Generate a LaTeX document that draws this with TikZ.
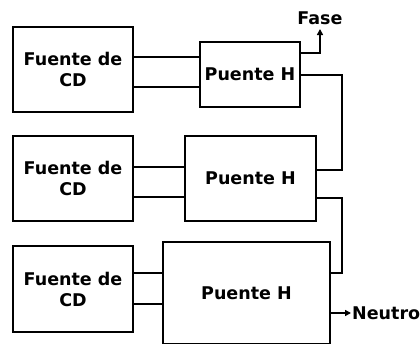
\documentclass[tikz,border=0pt]{standalone}
\usepackage{fontspec}
\setmainfont{DejaVu Sans}
\usetikzlibrary{arrows.meta}
\begin{document}
\begin{tikzpicture}[x=1pt,y=-1pt,
  blk/.style={draw,line width=1.8pt,inner sep=0pt,align=center,font=\fontsize{17.5}{21}\selectfont\bfseries},
  wire/.style={line width=1.8pt},
  lbl/.style={inner sep=0pt,font=\fontsize{17.5}{21}\selectfont\bfseries}]
\useasboundingbox (0,0) rectangle (420,343);
\clip (0,0) rectangle (420,343);
% sources
\node[blk,minimum width=120pt,minimum height=85pt] (s1) at (73,69.5) {Fuente de\\CD};
\node[blk,minimum width=120pt,minimum height=85pt] (s2) at (73,178.5) {Fuente de\\CD};
\node[blk,minimum width=120pt,minimum height=86pt] (s3) at (73,289) {Fuente de\\CD};
% bridges
\node[blk,minimum width=100pt,minimum height=65pt] (h1) at (250,74.5) {Puente H};
\node[blk,minimum width=131pt,minimum height=85pt] (h2) at (250.5,178.5) {Puente H};
\node[blk,minimum width=167pt,minimum height=102pt] (h3) at (246.5,293) {Puente H};
% labels
\node[lbl] (fase) at (320,18.5) {Fase};
\node[lbl,anchor=west] (neutro) at (352,313) {Neutro};
\coordinate (ftip) at (320,29);
% source to bridge wires
\draw[wire] (s1.east |- 0,57) -- (h1.west |- 0,57);
\draw[wire] (s1.east |- 0,87) -- (h1.west |- 0,87);
\draw[wire] (s2.east |- 0,167) -- (h2.west |- 0,167);
\draw[wire] (s2.east |- 0,197) -- (h2.west |- 0,197);
\draw[wire] (s3.east |- 0,273) -- (h3.west |- 0,273);
\draw[wire] (s3.east |- 0,304) -- (h3.west |- 0,304);
% series connections
\coordinate (c1) at (342,75);
\coordinate (c2) at (342,198);
\draw[wire] (h1.east |- c1) -- (c1) -- (342,170) -- (h2.east |- 0,170);
\draw[wire] (h2.east |- c2) -- (c2) -- (342,273) -- (h3.east |- 0,273);
% outputs
\draw[wire,-{Triangle[length=6pt,width=6pt]}] (h1.east |- 0,53) -- (320,53) -- (ftip);
\draw[wire,-{Triangle[length=6pt,width=6pt]}] (h3.east |- 0,313) -- ([xshift=-1pt]neutro.west);
\end{tikzpicture}
\end{document}
